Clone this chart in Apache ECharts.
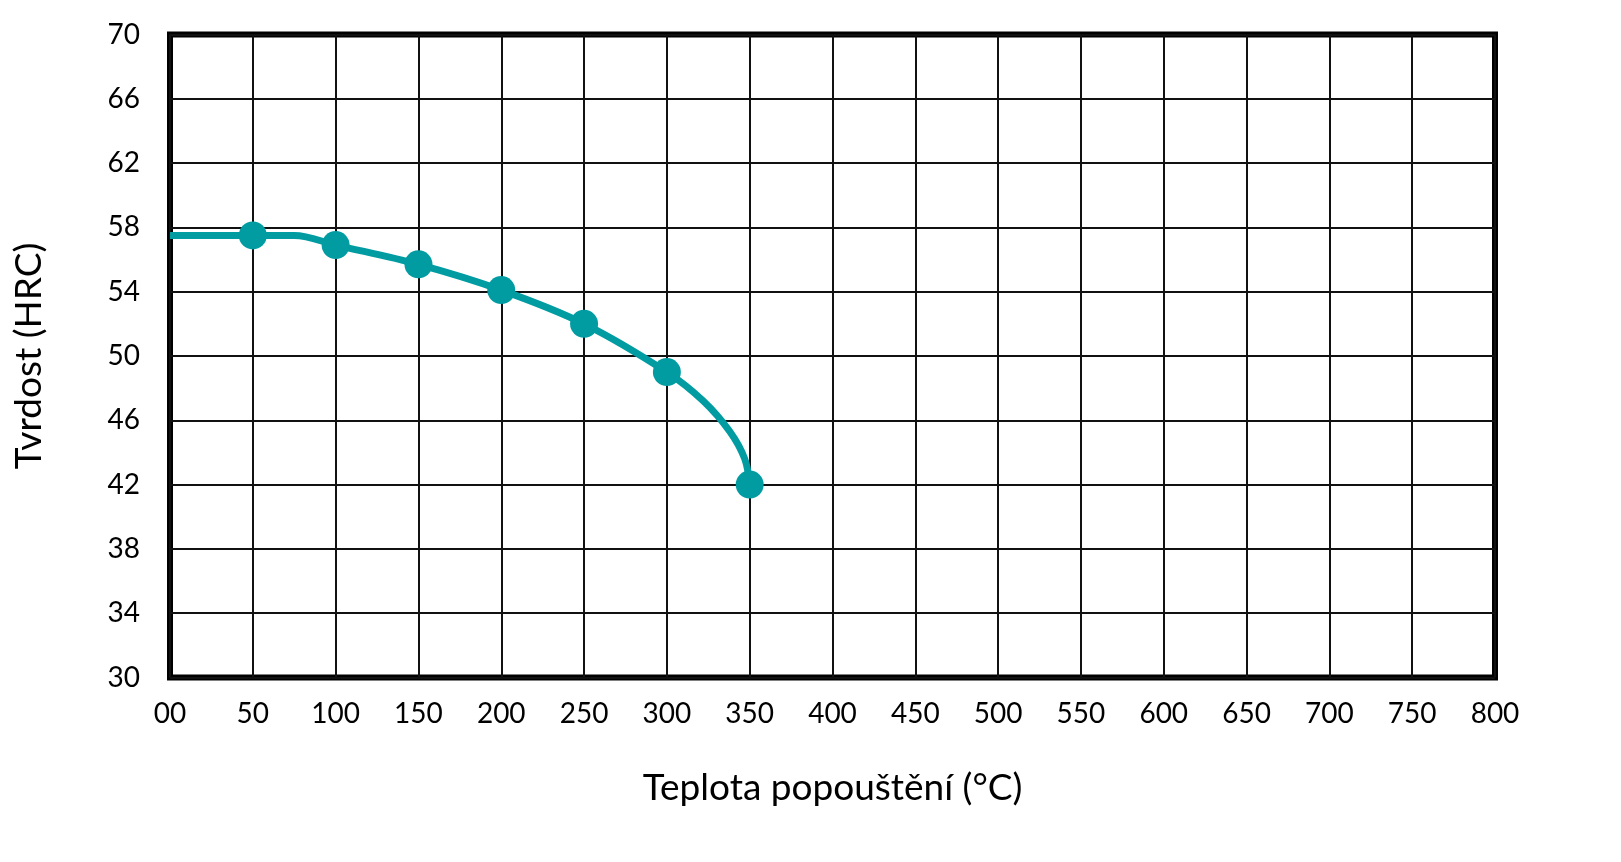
<html>
<head>
<meta charset="UTF-8"/>
<title>Tvrdost</title>
<script type="text/javascript" src="https://cdn.jsdelivr.net/npm/echarts@6/dist/echarts.min.js"></script>
<style type="text/css">
	body { margin: 0; background: #fff; }
	#chart { width: 1621px; height: 862px; }
</style>
</head>
<body>
<div id="chart"></div>
<script type="text/javascript">
	// measured points (markers)
	var tempMeasured = [50, 100, 150, 200, 250, 300, 350];
	var hrcMeasured = [57.5, 56.9, 55.7, 54.1, 52.0, 49.0, 42.0];
	// points the drawn curve passes through
	var tempCurve = [0, 50, 75, 100, 150, 200, 250, 300, 322, 338, 347, 350];
	var hrcCurve = [57.5, 57.5, 57.5, 56.9, 55.7, 54.1, 52.0, 49.0, 47.2, 45.3, 43.6, 42.0];

	var xName = "Teplota popouštění (°C)";
	var yName = "Tvrdost (HRC)";
	var teal = "#009ca2";
	var font = "Lato";

	var curve = [], markers = [];
	for (var i = 0; i < tempCurve.length; i++) curve.push([tempCurve[i], hrcCurve[i]]);
	for (var j = 0; j < tempMeasured.length; j++) markers.push([tempMeasured[j], hrcMeasured[j]]);

	var chart = echarts.init(document.getElementById("chart"));
	chart.setOption({
		animation: false,
		grid: {
			left: 170, right: 126, top: 34.5, bottom: 184.5,
			show: true, borderColor: "#000", borderWidth: 6, backgroundColor: "transparent"
		},
		xAxis: {
			type: "value", min: 0, max: 800, interval: 50,
			name: xName, nameLocation: "middle", nameGap: 92,
			nameTextStyle: { fontFamily: font, fontSize: 37, color: "#000" },
			axisLine: { show: false },
			axisTick: { show: false },
			axisLabel: {
				margin: 22, fontFamily: font, fontSize: 28, color: "#000",
				formatter: function (v) { return v === 0 ? "00" : String(v); }
			},
			splitLine: { show: true, lineStyle: { color: "#111", width: 2 } }
		},
		yAxis: {
			type: "value", min: 30, max: 70, interval: 4,
			name: yName, nameLocation: "middle", nameGap: 122,
			nameTextStyle: { fontFamily: font, fontSize: 37, color: "#000" },
			axisLine: { show: false },
			axisTick: { show: false },
			axisLabel: { margin: 30, fontFamily: font, fontSize: 28, color: "#000" },
			splitLine: { show: true, lineStyle: { color: "#111", width: 2 } }
		},
		series: [{
			type: "line",
			data: curve,
			smooth: 0.35,
			symbol: "none",
			lineStyle: { color: teal, width: 7 },
			z: 3
		}, {
			type: "scatter",
			data: markers,
			symbol: "circle",
			symbolSize: 28,
			itemStyle: { color: teal, opacity: 1 },
			z: 4
		}]
	});
</script>
</body>
</html>
